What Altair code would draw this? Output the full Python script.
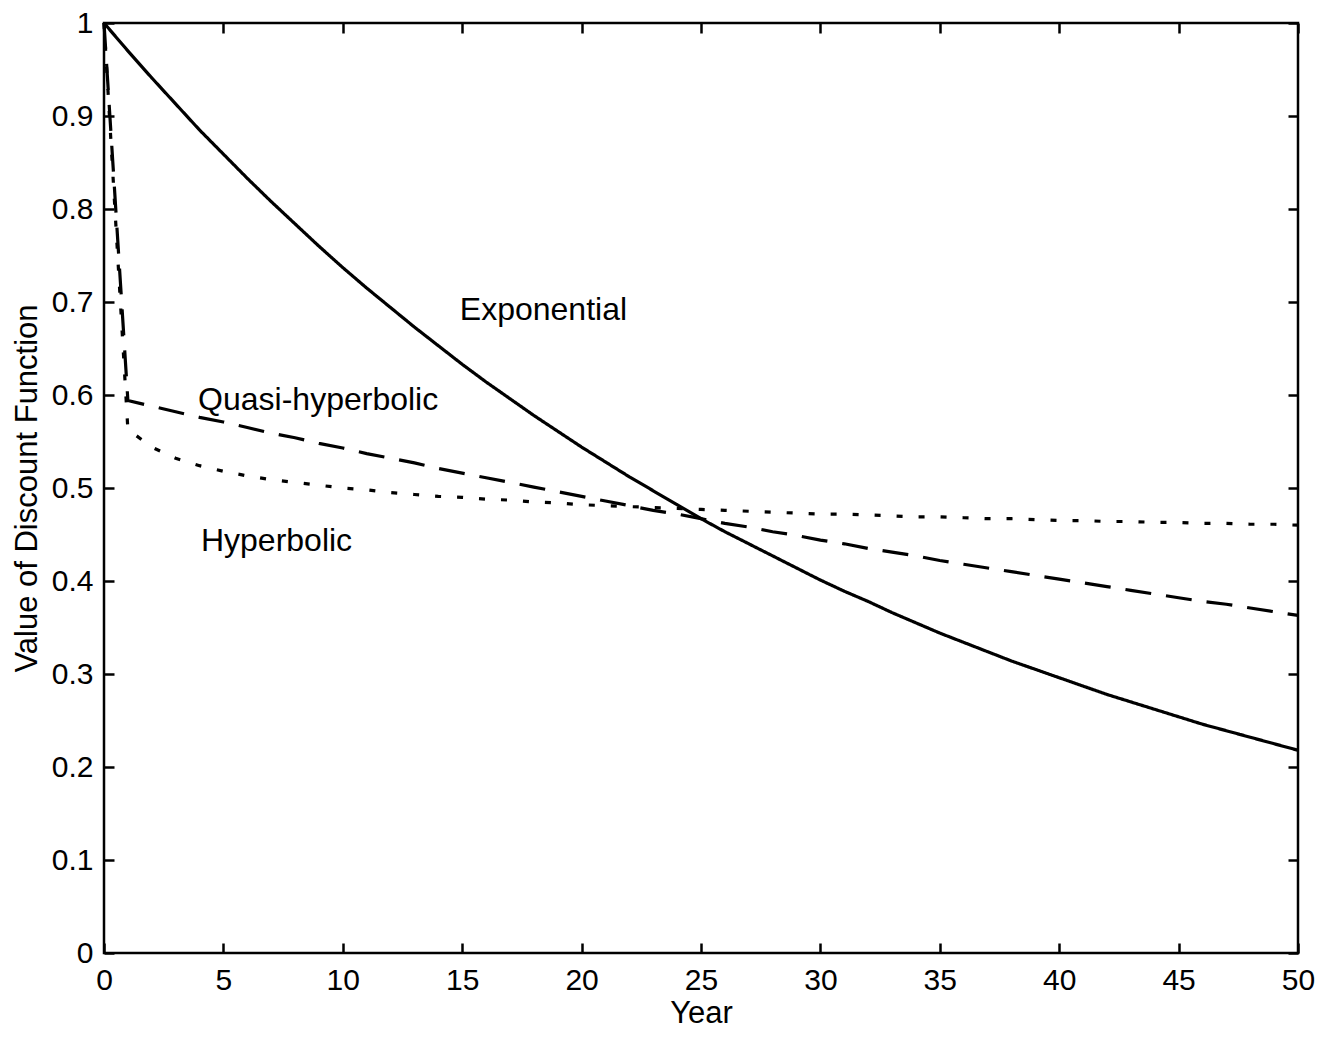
import altair as alt
import pandas as pd

years = list(range(0, 51))

exponential = [1.000, 0.970, 0.941, 0.913, 0.885, 0.859, 0.833, 0.808, 0.784, 0.760,
               0.737, 0.715, 0.694, 0.673, 0.653, 0.633, 0.614, 0.596, 0.578, 0.561,
               0.544, 0.528, 0.512, 0.497, 0.482, 0.467, 0.453, 0.440, 0.427, 0.414,
               0.401, 0.389, 0.378, 0.366, 0.355, 0.344, 0.334, 0.324, 0.314, 0.305,
               0.296, 0.287, 0.278, 0.270, 0.262, 0.254, 0.246, 0.239, 0.232, 0.225,
               0.218]

quasi_hyperbolic = [1.000, 0.594, 0.588, 0.582, 0.576, 0.571, 0.565, 0.559, 0.554, 0.548,
                    0.543, 0.537, 0.532, 0.527, 0.521, 0.516, 0.511, 0.506, 0.501, 0.496,
                    0.491, 0.486, 0.481, 0.476, 0.472, 0.467, 0.462, 0.458, 0.453, 0.449,
                    0.444, 0.440, 0.435, 0.431, 0.427, 0.422, 0.418, 0.414, 0.410, 0.406,
                    0.402, 0.398, 0.394, 0.390, 0.386, 0.382, 0.378, 0.375, 0.371, 0.367,
                    0.363]

hyperbolic = [1.000, 0.563, 0.544, 0.532, 0.524, 0.518, 0.513, 0.509, 0.506, 0.503,
              0.500, 0.498, 0.495, 0.493, 0.491, 0.490, 0.488, 0.487, 0.485, 0.484,
              0.482, 0.481, 0.480, 0.479, 0.478, 0.477, 0.476, 0.475, 0.474, 0.473,
              0.472, 0.472, 0.471, 0.470, 0.469, 0.469, 0.468, 0.467, 0.467, 0.466,
              0.465, 0.465, 0.464, 0.464, 0.463, 0.463, 0.462, 0.462, 0.461, 0.461,
              0.460]

series_names = ["Exponential", "Quasi-hyperbolic", "Hyperbolic"]
label_x = [14.9, 3.94, 4.06]
label_y = [0.681, 0.584, 0.432]

x_ticks = [0, 5, 10, 15, 20, 25, 30, 35, 40, 45, 50]
y_ticks = [0, 0.1, 0.2, 0.3, 0.4, 0.5, 0.6, 0.7, 0.8, 0.9, 1.0]

rows = []
for name, vals in zip(series_names, [exponential, quasi_hyperbolic, hyperbolic]):
    for t, v in zip(years, vals):
        rows.append({"year": t, "value": v, "series": name})
df = pd.DataFrame(rows)
labels_df = pd.DataFrame({"text": series_names, "x": label_x, "y": label_y})

FONT = "Liberation Sans, Arial, Helvetica, sans-serif"

xscale = alt.Scale(domain=[0, 50], nice=False, zero=False)
yscale = alt.Scale(domain=[0, 1], nice=False, zero=False)

lines = alt.Chart(df).mark_line(color="black", strokeWidth=3.2).encode(
    x=alt.X("year:Q", scale=xscale,
            axis=alt.Axis(values=x_ticks, title="Year", orient="bottom",
                          offset=-10, tickSize=10, domain=False, labelFlush=False,
                          labelPadding=12, titlePadding=3, format="d")),
    y=alt.Y("value:Q", scale=yscale,
            axis=alt.Axis(values=y_ticks, title="Value of Discount Function",
                          orient="left", offset=-10, tickSize=10, domain=False,
                          labelFlush=False,
                          labelPadding=11, titlePadding=8, format=".1~f")),
    strokeDash=alt.StrokeDash("series:N",
                              scale=alt.Scale(domain=series_names,
                                              range=[[1, 0], [26, 15], [6, 16]]),
                              legend=None),
)

texts = alt.Chart(labels_df).mark_text(
    align="left", baseline="alphabetic", font=FONT, fontSize=32, color="black"
).encode(
    x=alt.X("x:Q", scale=xscale,
            axis=alt.Axis(values=x_ticks, orient="top", offset=-10, tickSize=10,
                          domain=False, labels=False, title=None)),
    y=alt.Y("y:Q", scale=yscale,
            axis=alt.Axis(values=y_ticks, orient="right", offset=-10, tickSize=10,
                          domain=False, labels=False, title=None)),
    text="text:N",
)

chart = alt.layer(lines, texts).resolve_axis(x="independent", y="independent").properties(
    width=1194,
    height=930,
    background="white",
    autosize=alt.AutoSizeParams(type="none"),
    padding={"left": 96, "top": 15, "right": 28, "bottom": 76},
).configure_view(
    stroke="black", strokeWidth=2.5
).configure_axis(
    labelFont=FONT, titleFont=FONT, labelFontSize=30, titleFontSize=31,
    titleFontWeight="normal", labelColor="black", titleColor="black",
    tickColor="black", tickWidth=2.5, grid=False,
)

chart.save("out.html", embed_options={"renderer": "svg", "actions": False})
